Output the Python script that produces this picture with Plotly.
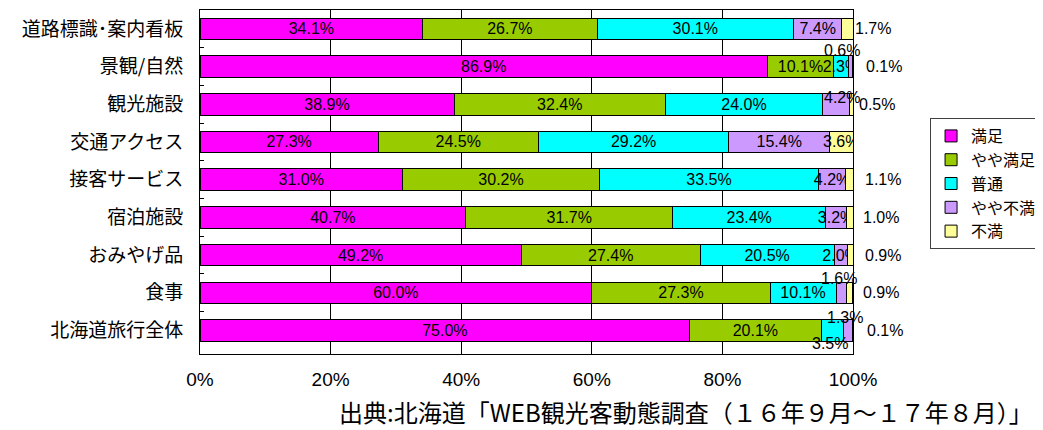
import plotly.graph_objects as go

# 項目（上から順）
categories = ["道路標識･案内看板", "景観/自然", "観光施設", "交通アクセス", "接客サービス",
              "宿泊施設", "おみやげ品", "食事", "北海道旅行全体"]
series_names = ["満足", "やや満足", "普通", "やや不満", "不満"]
colors = ["#FF00FF", "#99CC00", "#00FFFF", "#CC99FF", "#FFFF99"]

manzoku      = [34.1, 86.9, 38.9, 27.3, 31.0, 40.7, 49.2, 60.0, 75.0]
yaya_manzoku = [26.7, 10.1, 32.4, 24.5, 30.2, 31.7, 27.4, 27.3, 20.1]
futsu        = [30.1, 2.3, 24.0, 29.2, 33.5, 23.4, 20.5, 10.1, 3.5]
yaya_fuman   = [7.4, 0.6, 4.2, 15.4, 4.2, 3.2, 2.0, 1.6, 1.3]
fuman        = [1.7, 0.1, 0.5, 3.6, 1.1, 1.0, 0.9, 0.9, 0.1]
values = [manzoku, yaya_manzoku, futsu, yaya_fuman, fuman]

x_ticks = [0, 20, 40, 60, 80, 100]
x_ticklabels = ["0%", "20%", "40%", "60%", "80%", "100%"]

source = "出典:北海道「WEB観光客動態調査（１６年９月～１７年８月）」"

# ラベルを棒の外に出す位置 (行, 系列) -> (xshift, yshift)  ※Excelで手動移動されたもの
moved = {
    (0, 4): (20, 0), (1, 3): (-8, 16), (1, 4): (31, 0), (2, 3): (6, 7), (2, 4): (24, 0),
    (4, 4): (30, 0), (5, 4): (28, 0), (6, 4): (30, 0), (7, 3): (-2, 14), (7, 4): (28, 0),
    (8, 3): (-3, 13), (8, 2): (-2, -13), (8, 4): (32, 0),
}

lab_font = dict(family="Liberation Sans, Arial, sans-serif", size=16, color="#000000")

fig = go.Figure()
annotations = []
for s, (name, vals, col) in enumerate(zip(series_names, values, colors)):
    texts = []
    for r, v in enumerate(vals):
        if (r, s) in moved:
            texts.append("")
            left = sum(values[k][r] for k in range(s))
            dx, dy = moved[(r, s)]
            annotations.append(dict(
                x=left + v / 2 if dy != 0 else 100, y=categories[r], xref="x", yref="y",
                text=f"{v:.1f}%", showarrow=False, xshift=dx, yshift=dy,
                font=lab_font))
        else:
            texts.append(f"{v:.1f}%")
    fig.add_trace(go.Bar(
        y=categories, x=vals, name=name, orientation="h",
        marker=dict(color=col, line=dict(color="#000000", width=1)),
        text=texts, textposition="inside", insidetextanchor="middle",
        textangle=0, textfont=lab_font, hoverinfo="skip"))

annotations.append(dict(
    x=1.279, y=-0.166, xref="paper", yref="paper", xanchor="right", yanchor="middle",
    text=source, showarrow=False,
    font=dict(family="Noto Sans CJK JP", size=24, color="#000000")))

# ページ本体の余白(8px)を見込んだ余白
fig.update_layout(
    barmode="stack", bargap=0.43,
    width=1043, height=430,
    margin=dict(l=192, r=198, t=2, b=84, autoexpand=False),
    paper_bgcolor="white", plot_bgcolor="white",
    uniformtext=dict(minsize=16, mode="show"),
    annotations=annotations,
    legend=dict(
        x=1.118, y=0.686, xanchor="left", yanchor="top",
        bordercolor="#404040", borderwidth=1, bgcolor="white",
        font=dict(family="Noto Sans CJK JP", size=16, color="#000000"),
        traceorder="normal"),
    xaxis=dict(
        range=[0, 100], tickvals=x_ticks, ticktext=x_ticklabels, automargin=False,
        showgrid=True, gridcolor="#000000", gridwidth=1,
        showline=True, linecolor="#000000", linewidth=1, mirror=True,
        ticks="", ticklabelstandoff=8, zeroline=False,
        tickfont=dict(family="Liberation Sans, Arial, sans-serif", size=19, color="#000000")),
    yaxis=dict(
        autorange="reversed", automargin=False,
        showline=True, linecolor="#000000", linewidth=1, mirror=True,
        ticks="inside", tickson="boundaries", ticklen=4, tickcolor="#000000",
        ticklabelstandoff=12,
        tickfont=dict(family="Noto Sans CJK JP", size=19, color="#000000")),
)

fig.write_html("out.html")
